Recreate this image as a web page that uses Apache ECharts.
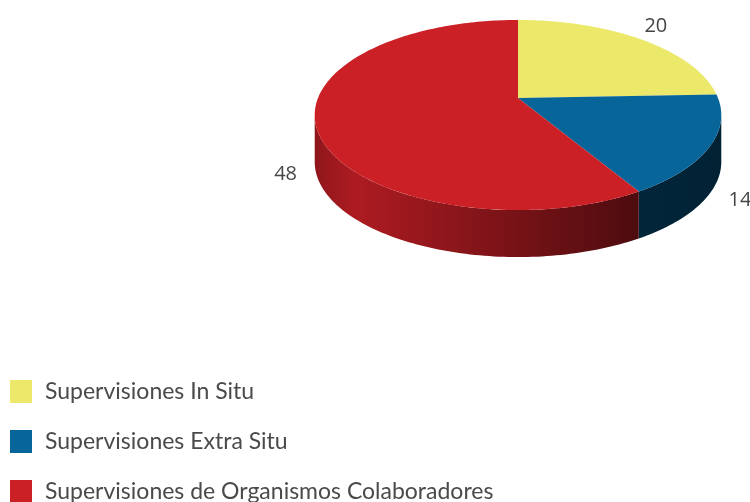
<!DOCTYPE html>
<html><head><meta charset="utf-8">
<script src="https://cdn.jsdelivr.net/npm/echarts@6/dist/echarts.min.js"></script>
<style>html,body{margin:0;padding:0;background:#fff}#c{width:750px;height:502px}</style>
</head><body><div id="c"></div>
<script>
const categories = ['Supervisiones In Situ', 'Supervisiones Extra Situ', 'Supervisiones de Organismos Colaboradores'];
const values = [20, 14, 48];
const colors = ['#ECE86A', '#07659A', '#CC2027'];

// view geometry of the tilted disc
const CX = 518, CY = 98, A = 200, B = 92, K = 0.179, DEPTH = 47;
const total = values.reduce((s, v) => s + v, 0);
const starts = [], ends = [];
let acc = 0;
values.forEach(v => { starts.push(acc / total * 2 * Math.PI); acc += v; ends.push(acc / total * 2 * Math.PI); });

function proj(t, r, dy) {
  const u = r * Math.sin(t), v = r * Math.cos(t), d = 1 + K * v;
  return [CX + A * u / d, CY - B * v / d + (dy || 0)];
}
function arc(a0, a1, dy) {
  const n = Math.max(2, Math.ceil((a1 - a0) / 0.02));
  const pts = [];
  for (let i = 0; i <= n; i++) pts.push(proj(a0 + (a1 - a0) * i / n, 1, dy));
  return pts;
}
function shade(hex, f) {
  const n = parseInt(hex.slice(1), 16);
  const r = Math.round(((n >> 16) & 255) * f), g = Math.round(((n >> 8) & 255) * f), b = Math.round((n & 255) * f);
  return 'rgb(' + r + ',' + g + ',' + b + ')';
}
const LO = Math.acos(-K), HI = 2 * Math.PI - Math.acos(-K);

function makeRender(i) {
  return function (params, api) {
    const a0 = starts[i], a1 = ends[i];
    const children = [];
    const s = Math.max(a0, LO), e = Math.min(a1, HI);
    if (e > s) {
      const top = arc(s, e, 0), bot = arc(s, e, DEPTH).reverse();
      const left = proj(HI, 1, 0)[0], right = proj(LO, 1, 0)[0];
      children.push({
        type: 'polygon', z2: 1,
        shape: { points: top.concat(bot) },
        style: {
          fill: new echarts.graphic.LinearGradient(left, 0, right, 0, [
            { offset: 0, color: shade(colors[i], 0.70) },
            { offset: 0.1, color: shade(colors[i], 0.85) },
            { offset: 0.79, color: shade(colors[i], 0.38) },
            { offset: 1, color: shade(colors[i], 0.34) }
          ], true)
        }
      });
    }
    children.push({
      type: 'polygon', z2: 2,
      shape: { points: [[CX, CY]].concat(arc(a0, a1, 0)) },
      style: { fill: colors[i] }
    });
    const m = (a0 + a1) / 2;
    const p = proj(m, 1.14, Math.cos(m) < 0 ? DEPTH : 0);
    children.push({
      type: 'text', z2: 3,
      style: {
        text: String(values[i]), x: p[0], y: p[1] - (Math.cos(m) > 0 ? 6 : 0),
        align: 'center', verticalAlign: 'middle',
        fontSize: 20, fontFamily: 'Open Sans', fill: '#454545'
      }
    });
    return { type: 'group', children: children };
  };
}

const chart = echarts.init(document.getElementById('c'));
chart.setOption({
  backgroundColor: '#ffffff',
  animation: false,
  color: colors,
  legend: {
    orient: 'vertical', left: 10, top: 380, height: 200, padding: 0,
    itemWidth: 22, itemHeight: 23, itemGap: 27,
    icon: 'rect',
    data: categories,
    textStyle: { fontSize: 23, fontFamily: 'Lato', color: '#4a4a4a', lineHeight: 23, padding: [0, 0, 0, 8] }
  },
  series: categories.map((name, i) => ({
    type: 'custom',
    name: name,
    coordinateSystem: 'none',
    itemStyle: { color: colors[i] },
    data: [[values[i]]],
    renderItem: makeRender(i)
  }))
});
</script></body></html>
